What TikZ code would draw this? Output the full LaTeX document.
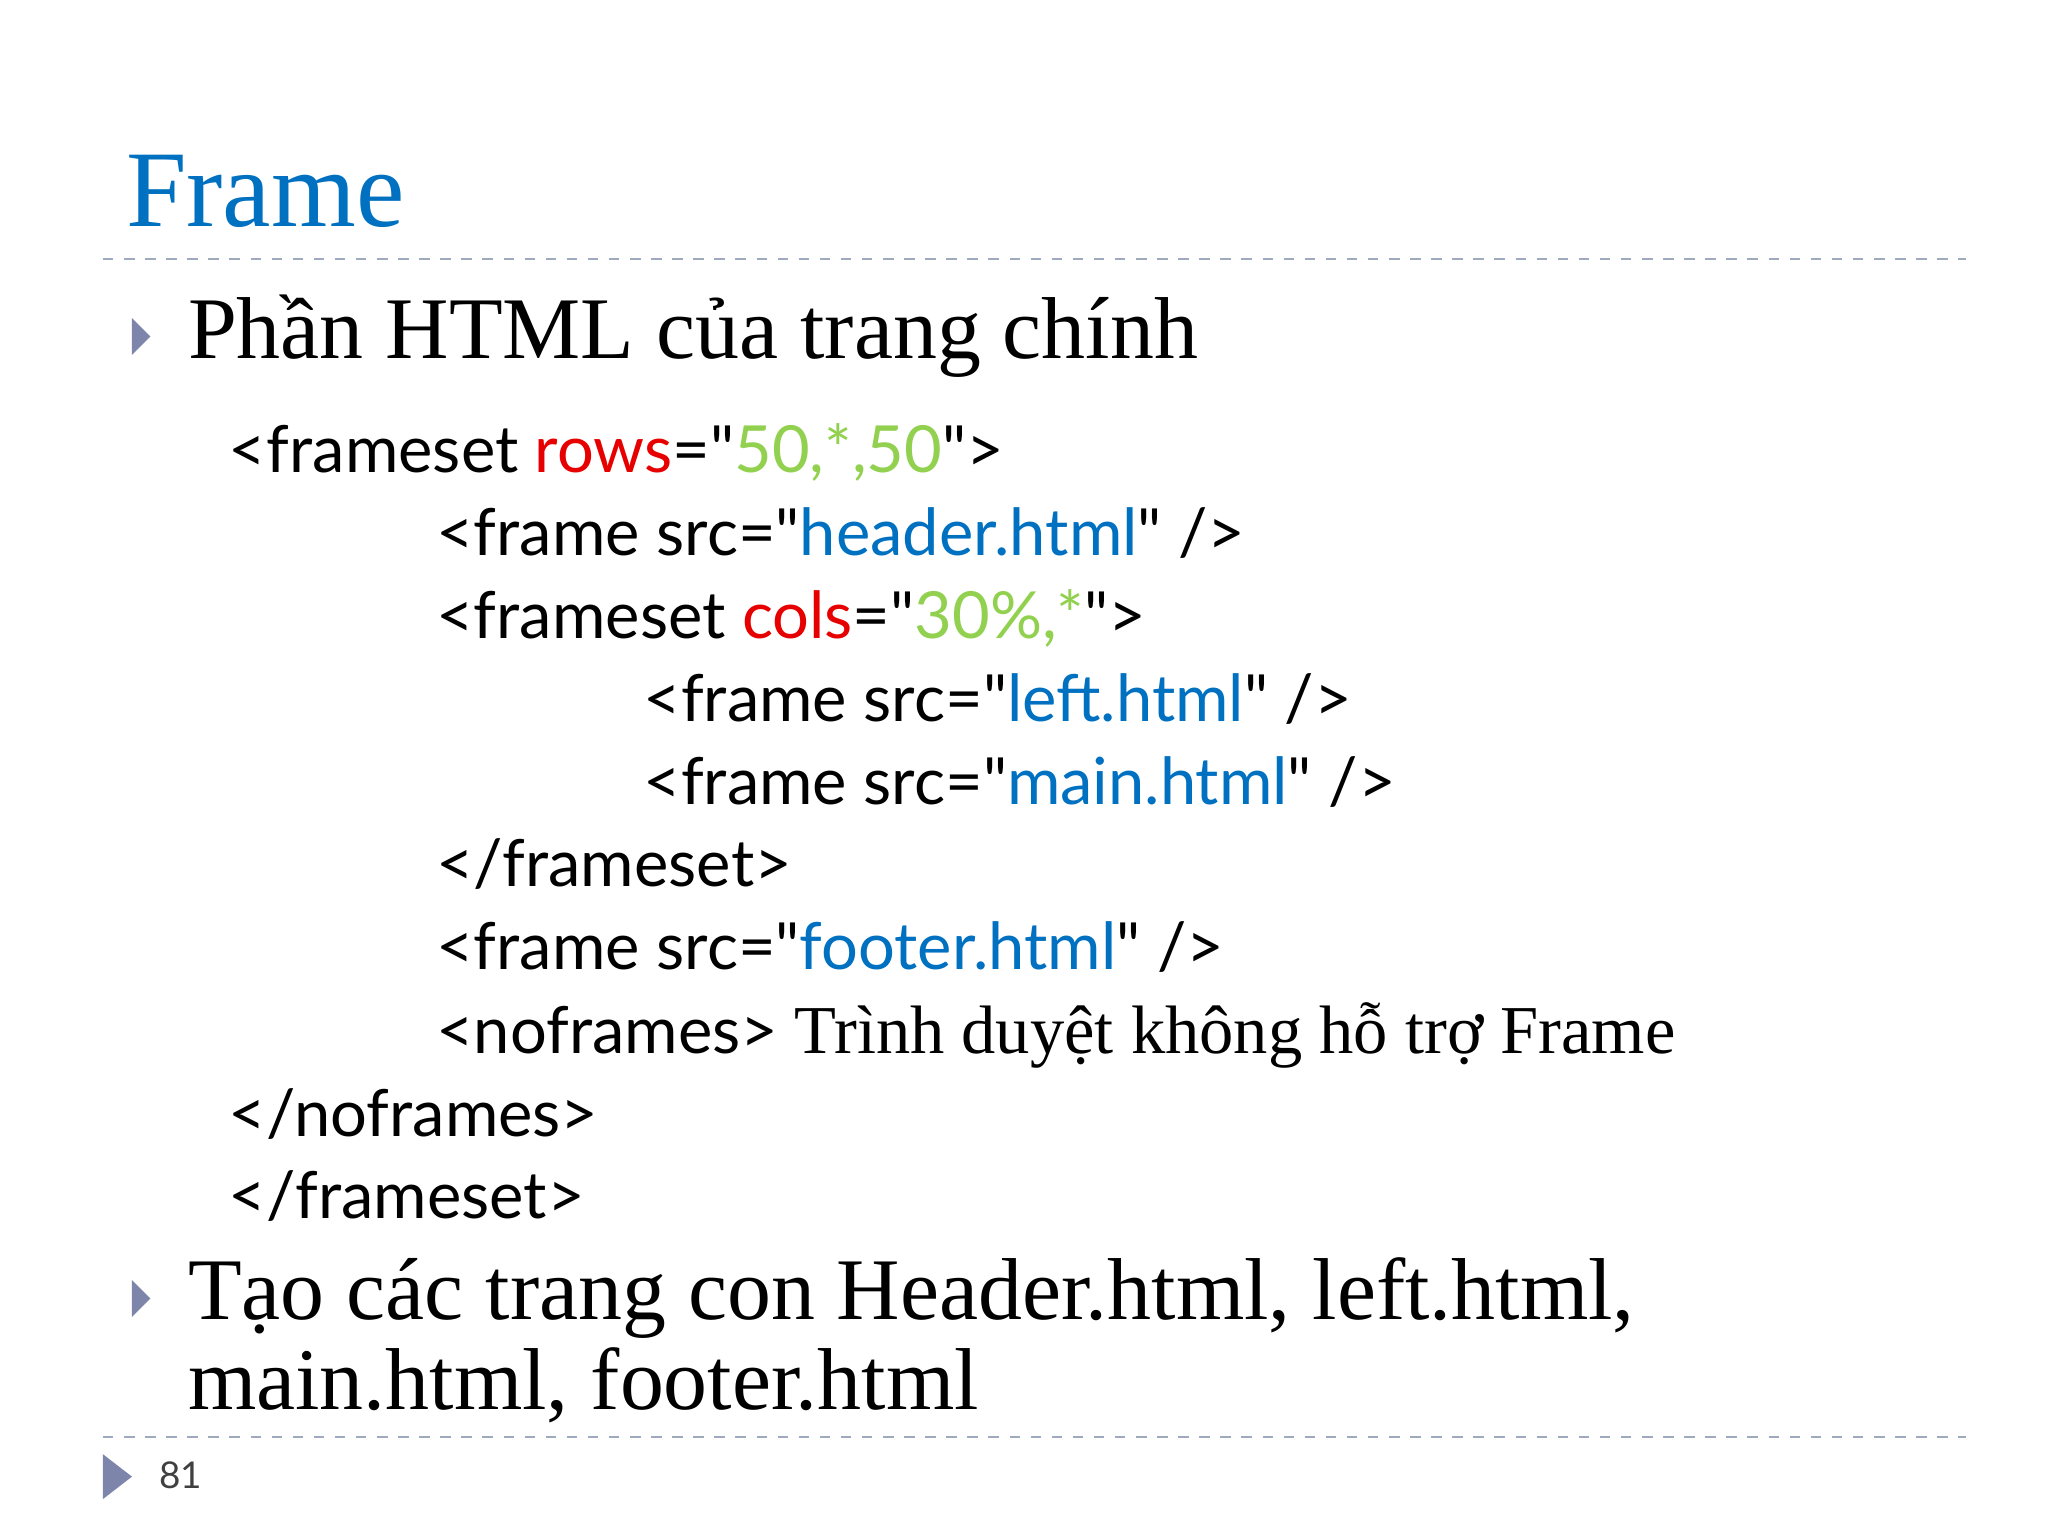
\documentclass[tikz,border=0pt]{standalone}
\usepackage{fontspec}
\setmainfont{Liberation Serif}
\newfontfamily\codefont{Lato}
\definecolor{ttl}{RGB}{0,112,192}
\definecolor{fn}{RGB}{0,112,192}
\definecolor{gr}{RGB}{146,208,80}
\definecolor{rd}{RGB}{230,0,0}
\definecolor{bul}{RGB}{125,133,170}
\definecolor{dl}{RGB}{160,170,190}
\begin{document}
\begin{tikzpicture}[x=0.0132cm,y=-0.0132cm,
  txt/.style={anchor=base west,inner sep=0pt},
  code/.style={txt,font=\codefont\fontsize{18.5}{22}\selectfont},
  big/.style={txt,font=\fontsize{25}{30}\selectfont},
  bullet/.style={fill=bul,draw=none}]
\useasboundingbox (0,0) rectangle (1552,1164);
\node[txt,font=\fontsize{31}{36}\selectfont,text=ttl] (title) at (95,172) {Frame};
\draw[dl,dashed,line width=0.6pt] (78,196) -- (1490,196);
\fill[bullet] (100,241) -- (114,255) -- (100,269) -- cycle;
\node[big] (b1) at (142,272) {Phần HTML của trang chính};
\node[code] (c1) at (173,358) {<frameset \textcolor{rd}{rows}="\textcolor{gr}{50,*,50}">};
\node[code] (c2) at (330,421) {<frame src="\textcolor{fn}{header.html}" />};
\node[code] (c3) at (330,484) {<frameset \textcolor{rd}{cols}="\textcolor{gr}{30\%,*}">};
\node[code] (c4) at (487,547) {<frame src="\textcolor{fn}{left.html}" />};
\node[code] (c5) at (487,610) {<frame src="\textcolor{fn}{main.html}" />};
\node[code] (c6) at (330,672) {</frameset>};
\node[code] (c7) at (330,735) {<frame src="\textcolor{fn}{footer.html}" />};
\node[code] (c8) at (330,798) {<noframes> {\rmfamily\fontsize{19.5}{22}\selectfont Trình duyệt không hỗ trợ Frame}};
\node[code] (c9) at (173,861) {</noframes>};
\node[code] (c10) at (173,923) {</frameset>};
\fill[bullet] (100,970) -- (114,984) -- (100,998) -- cycle;
\node[big] (b2) at (142,1000) {Tạo các trang con Header.html, left.html,};
\node[big] (b3) at (142,1068) {main.html, footer.html};
\draw[dl,dashed,line width=0.6pt] (78,1089) -- (1490,1089);
\fill[bullet] (78,1102) -- (100,1119) -- (78,1136) -- cycle;
\node[txt,font=\codefont\fontsize{10.5}{12}\selectfont,text=black!75] (pg) at (120,1128) {81};
\end{tikzpicture}
\end{document}
